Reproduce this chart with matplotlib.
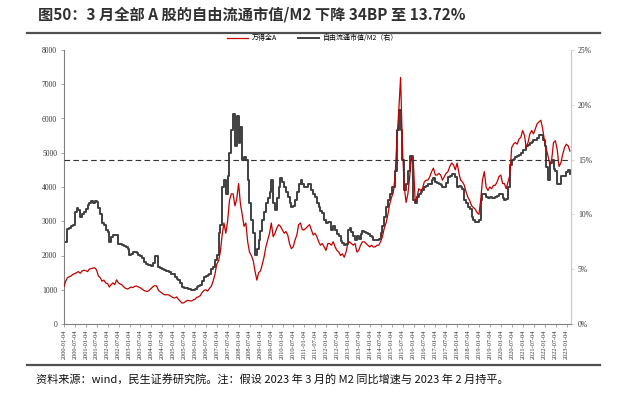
import matplotlib
matplotlib.use('Agg')
import matplotlib.pyplot as plt
import pandas as pd

plt.rcParams['font.family'] = ['Noto Sans CJK SC', 'DejaVu Sans']

# monthly data, 2000-01 .. 2023-03
months = pd.date_range('2000-01-01', '2023-03-01', freq='MS')

# Wind All A index (left axis)
wind_all_a = [
    1090, 1250, 1350, 1380, 1400, 1450, 1470, 1500, 1530, 1480, 1550, 1570,  # 2000
    1560, 1530, 1600, 1620, 1630, 1640, 1580, 1400, 1350, 1250, 1280, 1200,  # 2001
    1180, 1080, 1150, 1200, 1150, 1290, 1200, 1170, 1140, 1080, 1040, 1020,  # 2002
    1050, 1080, 1060, 1100, 1110, 1080, 1060, 1020, 980, 960, 950, 990,      # 2003
    1040, 1090, 1120, 1110, 980, 940, 900, 860, 850, 860, 840, 800,          # 2004
    770, 760, 790, 720, 660, 610, 620, 660, 690, 680, 670, 700,              # 2005
    720, 780, 790, 830, 920, 980, 1000, 960, 1040, 1100, 1250, 1450,         # 2006
    1750, 1850, 2100, 2600, 2950, 2650, 3000, 3600, 3800, 3800, 3450, 3650,  # 2007
    4100, 3500, 3200, 2850, 2950, 2400, 2100, 2000, 1850, 1550, 1280, 1500,  # 2008
    1550, 1750, 1950, 2250, 2450, 2650, 2950, 2550, 2650, 2800, 2900, 2850,  # 2009
    2750, 2650, 2700, 2600, 2350, 2200, 2250, 2450, 2600, 2900, 2950, 2750,  # 2010
    2750, 2800, 2850, 2900, 2750, 2600, 2650, 2550, 2400, 2300, 2350, 2250,  # 2011
    2150, 2350, 2350, 2300, 2400, 2250, 2150, 2100, 2000, 2050, 1950, 2100,  # 2012
    2350, 2400, 2350, 2300, 2350, 2100, 2150, 2300, 2400, 2400, 2350, 2300,  # 2013
    2250, 2300, 2250, 2250, 2300, 2300, 2400, 2550, 2800, 2950, 3200, 3500,  # 2014
    3700, 3850, 4300, 5400, 6200, 7200, 5200, 4000, 3550, 3800, 4300, 4900,  # 2015
    4700, 3550, 3700, 3950, 3900, 3950, 4150, 4200, 4200, 4300, 4450, 4550,  # 2016
    4350, 4350, 4400, 4350, 4200, 4300, 4400, 4450, 4600, 4700, 4650, 4500,  # 2017
    4700, 4400, 4200, 4150, 4050, 3850, 3700, 3600, 3450, 3400, 3350, 3250,  # 2018
    3200, 3650, 4200, 4450, 4000, 3900, 4000, 3950, 4050, 4050, 4150, 4300,  # 2019
    4350, 4100, 4100, 3950, 4150, 4350, 5150, 5250, 5300, 5250, 5400, 5450,  # 2020
    5650, 5500, 5150, 5300, 5550, 5650, 5550, 5700, 5850, 5900, 5950, 5700,  # 2021
    5350, 5100, 4900, 4650, 4800, 5300, 5350, 5100, 4600, 4700, 4950, 5150,  # 2022
    5250, 5200, 5050,                                                        # 2023
]

# free float market cap / M2, % (right axis)
float_cap_m2 = [
    7.5, 7.5, 8.7, 8.8, 8.9, 9.0, 10.2, 10.6, 10.4, 9.8, 10.0, 10.2,        # 2000
    10.5, 10.9, 11.0, 11.2, 11.0, 11.2, 11.1, 10.6, 10.0, 9.2, 9.0, 8.6,    # 2001
    8.4, 7.5, 7.9, 8.1, 8.1, 8.1, 7.3, 7.3, 7.2, 7.1, 7.05, 6.8,            # 2002
    6.3, 6.4, 6.6, 6.6, 6.5, 6.3, 6.2, 6.0, 5.7, 5.5, 5.4, 5.4,             # 2003
    5.3, 5.6, 6.2, 6.2, 5.2, 5.1, 5.0, 4.9, 4.8, 4.8, 4.7, 4.6,             # 2004
    4.6, 4.3, 4.1, 4.0, 3.7, 3.4, 3.3, 3.3, 3.2, 3.2, 3.1, 3.1,             # 2005
    3.2, 3.4, 3.5, 3.6, 3.9, 4.3, 4.4, 4.5, 4.6, 5.0, 5.2, 5.8,             # 2006
    6.3, 8.3, 9.0, 12.5, 13.1, 11.9, 13.5, 15.6, 17.7, 19.2, 16.2, 19.0,    # 2007
    16.5, 18.0, 15.0, 15.2, 15.0, 13.1, 11.0, 9.5, 8.3, 6.3, 6.8, 7.7,      # 2008
    8.5, 9.5, 10.2, 11.0, 11.5, 12.0, 13.1, 11.0, 10.4, 11.5, 12.5, 13.3,   # 2009
    13.0, 12.5, 12.0, 11.6, 11.0, 10.7, 10.8, 11.3, 12.0, 12.8, 13.1, 12.8, # 2010
    12.5, 12.5, 12.8, 12.8, 12.2, 11.9, 11.6, 11.0, 10.7, 10.3, 10.1, 9.5,  # 2011
    9.2, 9.3, 9.3, 8.6, 8.9, 8.6, 8.2, 8.0, 7.6, 7.4, 7.2, 7.3,             # 2012
    8.6, 8.8, 8.4, 8.0, 7.7, 8.0, 7.8, 8.2, 8.5, 8.4, 8.3, 8.2,             # 2013
    8.0, 7.9, 7.7, 7.7, 7.7, 7.8, 8.3, 8.9, 9.8, 10.7, 11.3, 11.9,          # 2014
    12.5, 12.5, 14.0, 17.7, 19.5, 17.7, 15.0, 12.2, 12.8, 14.0, 15.3, 15.3, # 2015
    11.3, 11.0, 11.6, 11.9, 12.0, 12.2, 12.5, 12.6, 12.8, 12.8, 13.1, 13.3, # 2016
    13.0, 12.9, 12.8, 12.7, 12.5, 12.5, 12.9, 13.4, 13.5, 13.7, 13.7, 13.4, # 2017
    12.5, 12.6, 12.5, 12.3, 11.3, 11.0, 10.7, 10.5, 9.8, 9.5, 9.3, 9.3,     # 2018
    9.5, 11.3, 11.9, 11.9, 11.6, 11.5, 11.6, 11.5, 11.5, 11.6, 11.7, 11.9,  # 2019
    11.9, 11.5, 11.3, 11.4, 12.5, 14.5, 15.0, 15.1, 15.2, 15.3, 15.4, 15.6, # 2020
    15.9, 15.9, 16.2, 16.3, 16.5, 16.6, 16.8, 16.8, 17.0, 17.2, 17.2, 16.8, # 2021
    16.2, 14.3, 13.1, 14.7, 15.0, 14.1, 14.0, 12.8, 12.8, 13.5, 13.5, 13.5, # 2022
    13.9, 14.06, 13.72,                                                     # 2023
]

ref_level = 4800  # dashed line, = 15% on the right axis

title = '图50：3 月全部 A 股的自由流通市值/M2 下降 34BP 至 13.72%'
note = '资料来源：wind，民生证券研究院。注：假设 2023 年 3 月的 M2 同比增速与 2023 年 2 月持平。'

fig = plt.figure(figsize=(6.26, 3.93), dpi=100)
fig.set_facecolor('white')

ax = fig.add_axes((64 / 626, 1 - 324 / 393, 507 / 626, 274 / 393))
ax2 = ax.twinx()

ln1, = ax.plot(months, wind_all_a, color='#C00000', lw=0.9, zorder=3, label='万得全A')
ln2, = ax2.plot(months, float_cap_m2, color='#404040', lw=1.4, drawstyle='steps-post',
                label='自由流通市值/M2（右）')
ax.set_zorder(ax2.get_zorder() + 1)
ax.patch.set_visible(False)
ax.axhline(ref_level, color='#333333', lw=0.8, ls=(0, (5, 3)), zorder=4)

ax.set_ylim(0, 8000)
ax.set_yticks(range(0, 8001, 1000))
ax2.set_ylim(0, 25)
ax2.set_yticks(range(0, 26, 5))
ax2.set_yticklabels([f'{v}%' for v in range(0, 26, 5)])

# semiannual tick labels: Jan 4 and Jul 4 of each year
xticks = [pd.Timestamp(y, m, 4) for y in range(2000, 2024) for m in (1, 7)]
xticks = [d for d in xticks if d <= pd.Timestamp('2023-01-04')]
ax.set_xlim(pd.Timestamp('2000-01-04'), pd.Timestamp('2023-03-20'))
ax.set_xticks(xticks)
ax.set_xticklabels([d.strftime('%Y-%m-%d') for d in xticks], rotation=90,
                   fontsize=4.6, family='Liberation Serif', color='#333333')

ax.spines['top'].set_visible(False)
ax2.spines['top'].set_visible(False)
ax.spines['left'].set_color('#808080')
ax.spines['bottom'].set_color('#808080')
ax.spines['right'].set_visible(False)
ax2.spines['left'].set_visible(False)
ax2.spines['bottom'].set_visible(False)
ax2.spines['right'].set_color('#c8c8c8')

ax.tick_params(axis='y', labelsize=5.5, labelcolor='#333333', color='#808080',
               length=2, width=0.5, pad=3)
ax.tick_params(axis='x', length=2, width=0.5, color='#808080', pad=2)
ax2.tick_params(axis='y', labelsize=5.5, labelcolor='#333333', color='#c8c8c8',
                length=2, width=0.5, pad=3)
for lab in ax.get_yticklabels() + ax2.get_yticklabels():
    lab.set_family('Liberation Serif')

fig.legend(handles=[ln1, ln2], loc='center', bbox_to_anchor=(0.5, 1 - 38 / 393),
           ncol=2, frameon=False, fontsize=5, handlelength=3, columnspacing=3,
           handletextpad=0.6)

fig.text(38 / 626, 1 - 15 / 393, title, fontsize=11, fontweight='bold',
         color='#303030', va='center', ha='left')
fig.add_artist(plt.Line2D([27 / 626, 600 / 626], [1 - 33 / 393] * 2,
                          color='#505050', lw=1.6))
fig.add_artist(plt.Line2D([27 / 626, 600 / 626], [1 - 365 / 393] * 2,
                          color='#505050', lw=1.6))
fig.text(36 / 626, 1 - 380 / 393, note, fontsize=8, color='#111111',
         va='center', ha='left')

fig.savefig('out.png', dpi=100)
